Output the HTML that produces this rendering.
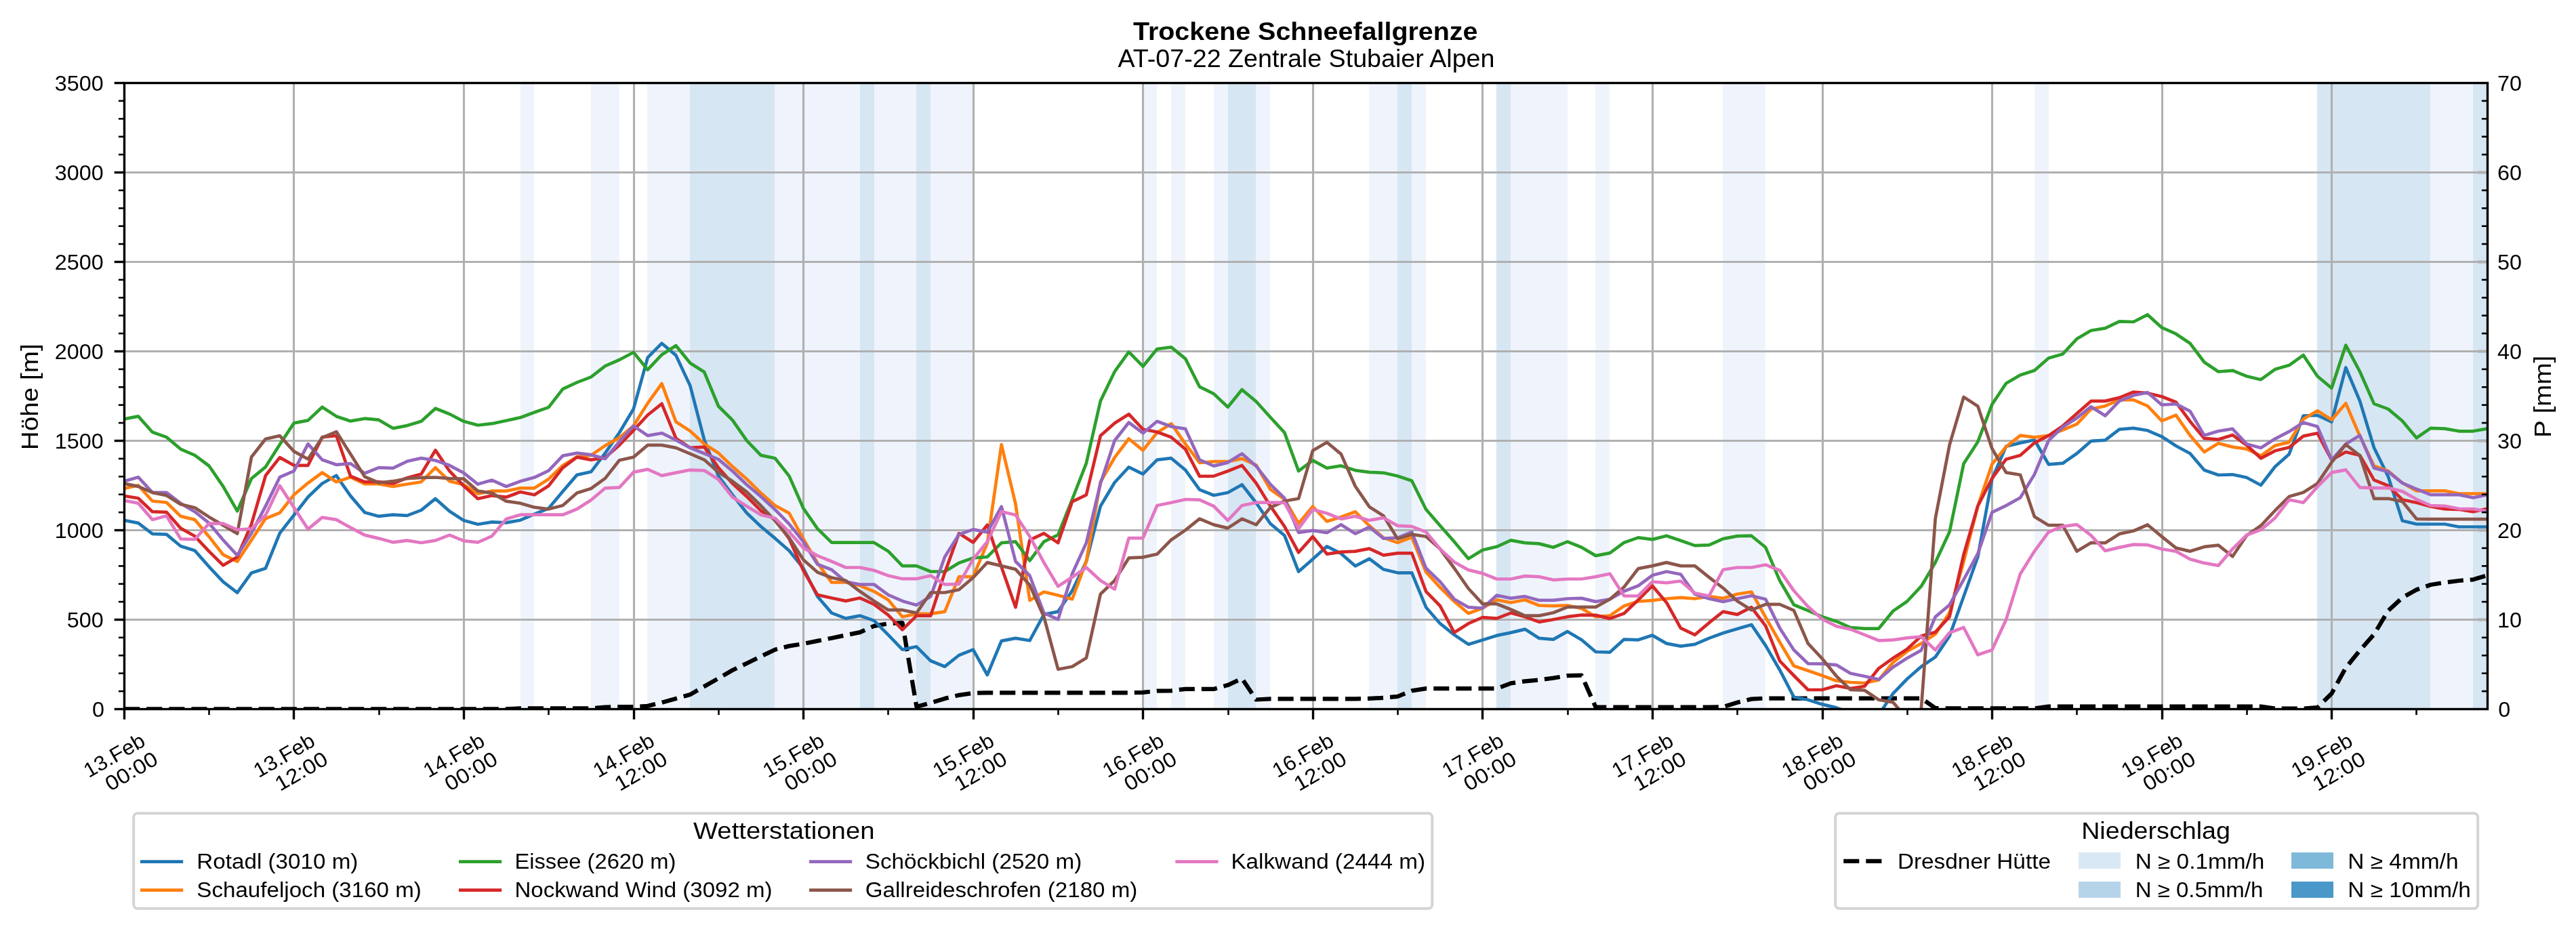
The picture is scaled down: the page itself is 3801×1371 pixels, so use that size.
<!DOCTYPE html>
<html><head><meta charset="utf-8"><title>Trockene Schneefallgrenze</title>
<style>html,body{margin:0;padding:0;background:#fff;}svg{display:block;will-change:transform;}text{font-family:"Liberation Sans",sans-serif;fill:#000;}</style></head><body>
<svg width="3801" height="1371" viewBox="0 0 3801 1371">
<rect x="0" y="0" width="3801" height="1371" fill="#ffffff"/>
<g shape-rendering="crispEdges">
<rect x="768" y="122.5" width="20" height="924.0" fill="#eff4fc"/>
<rect x="872" y="122.5" width="42" height="924.0" fill="#eff4fc"/>
<rect x="955" y="122.5" width="63" height="924.0" fill="#eff4fc"/>
<rect x="1143" y="122.5" width="126" height="924.0" fill="#eff4fc"/>
<rect x="1290" y="122.5" width="62" height="924.0" fill="#eff4fc"/>
<rect x="1373" y="122.5" width="63" height="924.0" fill="#eff4fc"/>
<rect x="1686" y="122.5" width="21" height="924.0" fill="#eff4fc"/>
<rect x="1728" y="122.5" width="21" height="924.0" fill="#eff4fc"/>
<rect x="1791" y="122.5" width="21" height="924.0" fill="#eff4fc"/>
<rect x="1853" y="122.5" width="21" height="924.0" fill="#eff4fc"/>
<rect x="2020" y="122.5" width="42" height="924.0" fill="#eff4fc"/>
<rect x="2083" y="122.5" width="21" height="924.0" fill="#eff4fc"/>
<rect x="2229" y="122.5" width="84" height="924.0" fill="#eff4fc"/>
<rect x="2354" y="122.5" width="21" height="924.0" fill="#eff4fc"/>
<rect x="2542" y="122.5" width="63" height="924.0" fill="#eff4fc"/>
<rect x="3002" y="122.5" width="21" height="924.0" fill="#eff4fc"/>
<rect x="3586" y="122.5" width="63" height="924.0" fill="#eff4fc"/>
<rect x="1018" y="122.5" width="125" height="924.0" fill="#d7e6f3"/>
<rect x="1269" y="122.5" width="21" height="924.0" fill="#d7e6f3"/>
<rect x="1352" y="122.5" width="21" height="924.0" fill="#d7e6f3"/>
<rect x="1812" y="122.5" width="41" height="924.0" fill="#d7e6f3"/>
<rect x="2062" y="122.5" width="21" height="924.0" fill="#d7e6f3"/>
<rect x="2208" y="122.5" width="21" height="924.0" fill="#d7e6f3"/>
<rect x="3419" y="122.5" width="167" height="924.0" fill="#d7e6f3"/>
<rect x="3649" y="122.5" width="21" height="924.0" fill="#d7e6f3"/>
</g>
<g stroke="#b0b0b0" stroke-width="3.1" fill="none">
<line x1="433.5" y1="122.5" x2="433.5" y2="1046.5"/>
<line x1="684.5" y1="122.5" x2="684.5" y2="1046.5"/>
<line x1="935.5" y1="122.5" x2="935.5" y2="1046.5"/>
<line x1="1185.5" y1="122.5" x2="1185.5" y2="1046.5"/>
<line x1="1436.5" y1="122.5" x2="1436.5" y2="1046.5"/>
<line x1="1686.5" y1="122.5" x2="1686.5" y2="1046.5"/>
<line x1="1937.5" y1="122.5" x2="1937.5" y2="1046.5"/>
<line x1="2187.5" y1="122.5" x2="2187.5" y2="1046.5"/>
<line x1="2438.5" y1="122.5" x2="2438.5" y2="1046.5"/>
<line x1="2689.5" y1="122.5" x2="2689.5" y2="1046.5"/>
<line x1="2939.5" y1="122.5" x2="2939.5" y2="1046.5"/>
<line x1="3190.5" y1="122.5" x2="3190.5" y2="1046.5"/>
<line x1="3440.5" y1="122.5" x2="3440.5" y2="1046.5"/>
<line x1="183.5" y1="914.5" x2="3670.5" y2="914.5"/>
<line x1="183.5" y1="782.5" x2="3670.5" y2="782.5"/>
<line x1="183.5" y1="650.5" x2="3670.5" y2="650.5"/>
<line x1="183.5" y1="518.5" x2="3670.5" y2="518.5"/>
<line x1="183.5" y1="386.5" x2="3670.5" y2="386.5"/>
<line x1="183.5" y1="254.5" x2="3670.5" y2="254.5"/>
</g>
<g stroke="#b0b0b0" stroke-width="4.2">
<line x1="3655.9" y1="914.5" x2="3670.5" y2="914.5"/>
<line x1="3655.9" y1="782.5" x2="3670.5" y2="782.5"/>
<line x1="3655.9" y1="650.5" x2="3670.5" y2="650.5"/>
<line x1="3655.9" y1="518.5" x2="3670.5" y2="518.5"/>
<line x1="3655.9" y1="386.5" x2="3670.5" y2="386.5"/>
<line x1="3655.9" y1="254.5" x2="3670.5" y2="254.5"/>
</g>
<clipPath id="c"><rect x="183.5" y="122.5" width="3487.0" height="924.0"/></clipPath>
<g clip-path="url(#c)" fill="none" stroke-linejoin="round" stroke-linecap="butt">
<path d="M183.1 1046.4 L204.0 1046.4 L224.9 1046.4 L245.7 1046.4 L266.6 1046.4 L287.5 1046.4 L308.4 1046.4 L329.3 1046.4 L350.1 1046.4 L371.0 1046.4 L391.9 1046.4 L412.8 1046.4 L433.7 1046.4 L454.5 1046.4 L475.4 1046.4 L496.3 1046.4 L517.2 1046.4 L538.1 1046.4 L558.9 1046.4 L579.8 1046.4 L600.7 1046.4 L621.6 1046.4 L642.5 1046.4 L663.3 1046.4 L684.2 1046.4 L705.1 1046.4 L726.0 1046.4 L746.9 1046.4 L767.7 1045.4 L788.6 1045.4 L809.5 1045.4 L830.4 1045.4 L851.3 1045.4 L872.1 1045.4 L893.0 1043.7 L913.9 1043.0 L934.8 1043.0 L955.7 1041.9 L976.5 1036.7 L997.4 1030.9 L1018.3 1025.1 L1039.2 1013.0 L1060.1 1001.1 L1080.9 989.0 L1101.8 979.0 L1122.7 968.7 L1143.6 958.7 L1164.5 953.4 L1185.3 950.1 L1206.2 945.9 L1227.1 941.7 L1248.0 937.3 L1268.9 933.1 L1289.7 923.8 L1310.6 920.3 L1331.5 919.1 L1352.4 1043.0 L1373.3 1037.2 L1394.1 1030.9 L1415.0 1025.8 L1435.9 1022.8 L1456.8 1022.3 L1477.7 1022.3 L1498.5 1022.3 L1519.4 1022.3 L1540.3 1022.3 L1561.2 1022.3 L1582.1 1022.3 L1602.9 1022.3 L1623.8 1022.3 L1644.7 1022.3 L1665.6 1022.3 L1686.5 1021.8 L1707.3 1019.7 L1728.2 1019.3 L1749.1 1016.9 L1770.0 1016.9 L1790.9 1016.9 L1811.7 1011.1 L1832.6 1001.3 L1853.5 1032.5 L1874.4 1031.4 L1895.3 1031.4 L1916.1 1031.4 L1937.0 1031.4 L1957.9 1031.4 L1978.8 1031.4 L1999.7 1031.4 L2020.5 1030.9 L2041.4 1029.8 L2062.3 1027.9 L2083.2 1019.3 L2104.1 1016.2 L2124.9 1016.2 L2145.8 1016.2 L2166.7 1016.2 L2187.6 1016.2 L2208.5 1016.2 L2229.3 1008.3 L2250.2 1005.3 L2271.1 1003.4 L2292.0 1000.6 L2312.9 997.1 L2333.7 996.7 L2354.6 1043.7 L2375.5 1043.7 L2396.4 1043.7 L2417.3 1043.7 L2438.1 1043.7 L2459.0 1043.7 L2479.9 1043.7 L2500.8 1043.7 L2521.7 1043.7 L2542.5 1043.3 L2563.4 1036.7 L2584.3 1031.6 L2605.2 1030.5 L2626.1 1030.5 L2646.9 1030.5 L2667.8 1030.5 L2688.7 1030.5 L2709.6 1030.5 L2730.5 1030.5 L2751.3 1030.5 L2772.2 1030.5 L2793.1 1030.5 L2814.0 1030.5 L2834.9 1030.5 L2855.7 1045.1 L2876.6 1045.4 L2897.5 1045.4 L2918.4 1045.4 L2939.3 1045.4 L2960.1 1045.4 L2981.0 1045.4 L3001.9 1045.4 L3022.8 1042.6 L3043.7 1042.6 L3064.5 1042.6 L3085.4 1042.6 L3106.3 1042.6 L3127.2 1042.6 L3148.1 1042.6 L3168.9 1042.6 L3189.8 1042.6 L3210.7 1042.6 L3231.6 1042.6 L3252.5 1042.6 L3273.3 1042.6 L3294.2 1042.6 L3315.1 1042.6 L3336.0 1042.6 L3356.9 1045.6 L3377.7 1045.6 L3398.6 1045.6 L3419.5 1044.2 L3440.4 1023.5 L3461.3 985.5 L3482.1 959.9 L3503.0 936.1 L3523.9 901.2 L3544.8 882.0 L3565.7 870.3 L3586.5 863.0 L3607.4 859.6 L3628.3 857.0 L3649.2 855.3 L3670.1 849.0" stroke="#000" stroke-width="6.25" stroke-dasharray="23.1 10"/>
<path d="M183.1 767.9 L204.0 771.9 L224.9 787.9 L245.7 788.6 L266.6 806.0 L287.5 812.6 L308.4 836.3 L329.3 858.7 L350.1 874.7 L371.0 845.4 L391.9 838.7 L412.8 786.9 L433.7 760.2 L454.5 733.5 L475.4 713.5 L496.3 701.8 L517.2 731.9 L538.1 756.2 L558.9 761.9 L579.8 759.6 L600.7 760.9 L621.6 752.9 L642.5 735.9 L663.3 754.6 L684.2 768.0 L705.1 773.7 L726.0 770.4 L746.9 771.4 L767.7 767.7 L788.6 758.7 L809.5 750.3 L830.4 725.3 L851.3 700.9 L872.1 696.3 L893.0 668.6 L913.9 638.5 L934.8 603.5 L955.7 527.7 L976.5 506.7 L997.4 524.4 L1018.3 569.1 L1039.2 649.2 L1060.1 702.6 L1080.9 730.3 L1101.8 757.0 L1122.7 777.0 L1143.6 794.4 L1164.5 812.8 L1185.3 838.5 L1206.2 880.2 L1227.1 904.6 L1248.0 912.6 L1268.9 908.6 L1289.7 915.9 L1310.6 936.9 L1331.5 958.6 L1352.4 954.3 L1373.3 975.3 L1394.1 983.7 L1415.0 967.0 L1435.9 958.6 L1456.8 996.0 L1477.7 945.9 L1498.5 941.9 L1519.4 945.3 L1540.3 906.9 L1561.2 902.6 L1582.1 871.8 L1602.9 828.5 L1623.8 747.0 L1644.7 712.0 L1665.6 689.3 L1686.5 699.6 L1707.3 678.6 L1728.2 676.2 L1749.1 693.6 L1770.0 722.6 L1790.9 731.0 L1811.7 727.0 L1832.6 715.3 L1853.5 742.0 L1874.4 772.7 L1895.3 790.2 L1916.1 843.6 L1937.0 825.3 L1957.9 806.3 L1978.8 816.9 L1999.7 835.3 L2020.5 824.6 L2041.4 840.3 L2062.3 845.3 L2083.2 845.3 L2104.1 896.2 L2124.9 920.2 L2145.8 936.9 L2166.7 950.9 L2187.6 944.6 L2208.5 937.9 L2229.3 933.6 L2250.2 928.6 L2271.1 941.9 L2292.0 943.6 L2312.9 931.9 L2333.7 944.3 L2354.6 962.0 L2375.5 962.6 L2396.4 943.6 L2417.3 944.3 L2438.1 937.6 L2459.0 949.6 L2479.9 953.6 L2500.8 950.9 L2521.7 941.9 L2542.5 934.3 L2563.4 927.9 L2584.3 921.9 L2605.2 952.6 L2626.1 988.7 L2646.9 1028.7 L2667.8 1032.7 L2688.7 1039.4 L2709.6 1044.4 L2730.5 1052.1 L2751.3 1057.1 L2772.2 1054.8 L2793.1 1023.7 L2814.0 1002.0 L2834.9 983.7 L2855.7 969.6 L2876.6 938.6 L2897.5 880.2 L2918.4 821.8 L2939.3 707.0 L2960.1 658.6 L2981.0 653.6 L3001.9 649.3 L3022.8 685.3 L3043.7 683.7 L3064.5 669.3 L3085.4 650.9 L3106.3 649.6 L3127.2 633.6 L3148.1 631.9 L3168.9 635.3 L3189.8 644.3 L3210.7 658.0 L3231.6 669.3 L3252.5 693.7 L3273.3 701.0 L3294.2 700.3 L3315.1 704.7 L3336.0 716.0 L3356.9 688.7 L3377.7 670.3 L3398.6 613.6 L3419.5 612.9 L3440.4 622.6 L3461.3 542.5 L3482.1 591.9 L3503.0 660.7 L3523.9 703.4 L3544.8 768.5 L3565.7 773.5 L3586.5 773.5 L3607.4 773.5 L3628.3 777.5 L3649.2 777.5 L3670.1 777.5" stroke="#1f77b4" stroke-width="4.7"/>
<path d="M183.1 720.9 L204.0 716.2 L224.9 739.5 L245.7 741.5 L266.6 761.9 L287.5 766.9 L308.4 791.9 L329.3 818.7 L350.1 828.7 L371.0 797.0 L391.9 765.2 L412.8 756.9 L433.7 730.2 L454.5 712.8 L475.4 697.5 L496.3 711.2 L517.2 704.2 L538.1 714.2 L558.9 714.2 L579.8 717.9 L600.7 714.5 L621.6 711.2 L642.5 690.1 L663.3 710.2 L684.2 715.3 L705.1 728.6 L726.0 724.6 L746.9 724.6 L767.7 720.3 L788.6 720.3 L809.5 706.9 L830.4 686.9 L851.3 674.2 L872.1 671.9 L893.0 657.6 L913.9 645.9 L934.8 628.5 L955.7 595.1 L976.5 566.1 L997.4 622.5 L1018.3 635.9 L1039.2 655.2 L1060.1 668.6 L1080.9 688.6 L1101.8 706.9 L1122.7 727.6 L1143.6 746.0 L1164.5 757.4 L1185.3 795.1 L1206.2 830.8 L1227.1 859.5 L1248.0 859.5 L1268.9 864.2 L1289.7 872.8 L1310.6 885.2 L1331.5 910.2 L1352.4 905.9 L1373.3 905.9 L1394.1 902.6 L1415.0 851.1 L1435.9 851.1 L1456.8 801.7 L1477.7 656.2 L1498.5 743.7 L1519.4 885.9 L1540.3 873.5 L1561.2 878.5 L1582.1 884.2 L1602.9 828.5 L1623.8 711.3 L1644.7 675.2 L1665.6 647.5 L1686.5 664.6 L1707.3 638.5 L1728.2 625.2 L1749.1 655.2 L1770.0 682.9 L1790.9 681.2 L1811.7 681.2 L1832.6 676.9 L1853.5 686.3 L1874.4 722.0 L1895.3 736.8 L1916.1 772.6 L1937.0 747.5 L1957.9 769.5 L1978.8 762.9 L1999.7 755.2 L2020.5 775.9 L2041.4 793.6 L2062.3 800.9 L2083.2 792.9 L2104.1 844.1 L2124.9 866.8 L2145.8 887.5 L2166.7 905.2 L2187.6 897.5 L2208.5 885.2 L2229.3 889.2 L2250.2 885.2 L2271.1 893.5 L2292.0 894.2 L2312.9 893.5 L2333.7 897.9 L2354.6 910.2 L2375.5 908.6 L2396.4 894.2 L2417.3 887.5 L2438.1 886.2 L2459.0 883.5 L2479.9 881.9 L2500.8 883.5 L2521.7 880.2 L2542.5 882.9 L2563.4 876.8 L2584.3 873.5 L2605.2 910.9 L2626.1 947.6 L2646.9 982.7 L2667.8 989.7 L2688.7 997.0 L2709.6 1004.7 L2730.5 1007.0 L2751.3 1008.0 L2772.2 1003.4 L2793.1 977.7 L2814.0 961.3 L2834.9 949.6 L2855.7 935.9 L2876.6 904.2 L2897.5 828.5 L2918.4 746.7 L2939.3 685.3 L2960.1 659.3 L2981.0 642.6 L3001.9 645.3 L3022.8 642.9 L3043.7 634.6 L3064.5 625.9 L3085.4 603.6 L3106.3 599.2 L3127.2 590.2 L3148.1 590.2 L3168.9 599.2 L3189.8 621.2 L3210.7 612.6 L3231.6 642.6 L3252.5 667.0 L3273.3 654.3 L3294.2 659.6 L3315.1 662.6 L3336.0 672.6 L3356.9 657.6 L3377.7 652.6 L3398.6 618.6 L3419.5 606.2 L3440.4 619.6 L3461.3 595.2 L3482.1 643.6 L3503.0 687.4 L3523.9 695.1 L3544.8 712.8 L3565.7 724.4 L3586.5 724.4 L3607.4 724.4 L3628.3 728.5 L3649.2 728.5 L3670.1 728.5" stroke="#ff7f0e" stroke-width="4.7"/>
<path d="M183.1 618.4 L204.0 614.4 L224.9 637.7 L245.7 645.1 L266.6 662.8 L287.5 671.8 L308.4 687.5 L329.3 717.9 L350.1 754.2 L371.0 706.2 L391.9 689.1 L412.8 656.1 L433.7 624.4 L454.5 620.4 L475.4 600.7 L496.3 614.4 L517.2 621.4 L538.1 617.7 L558.9 619.7 L579.8 632.1 L600.7 628.1 L621.6 621.7 L642.5 602.7 L663.3 611.0 L684.2 621.8 L705.1 627.5 L726.0 625.2 L746.9 620.8 L767.7 616.2 L788.6 608.5 L809.5 601.1 L830.4 574.1 L851.3 564.4 L872.1 556.4 L893.0 540.1 L913.9 531.0 L934.8 520.0 L955.7 545.7 L976.5 523.4 L997.4 510.0 L1018.3 535.7 L1039.2 549.1 L1060.1 599.5 L1080.9 620.2 L1101.8 650.2 L1122.7 671.9 L1143.6 676.2 L1164.5 702.6 L1185.3 750.0 L1206.2 780.1 L1227.1 800.7 L1248.0 800.7 L1268.9 800.7 L1289.7 800.7 L1310.6 813.4 L1331.5 835.1 L1352.4 835.1 L1373.3 843.5 L1394.1 843.5 L1415.0 830.8 L1435.9 823.4 L1456.8 821.8 L1477.7 801.1 L1498.5 799.4 L1519.4 827.4 L1540.3 799.4 L1561.2 789.4 L1582.1 737.0 L1602.9 683.6 L1623.8 591.8 L1644.7 548.4 L1665.6 519.4 L1686.5 540.7 L1707.3 515.0 L1728.2 512.4 L1749.1 529.4 L1770.0 570.8 L1790.9 581.1 L1811.7 600.8 L1832.6 575.1 L1853.5 592.5 L1874.4 615.8 L1895.3 638.4 L1916.1 695.1 L1937.0 679.4 L1957.9 690.8 L1978.8 687.4 L1999.7 694.1 L2020.5 696.8 L2041.4 697.8 L2062.3 702.5 L2083.2 709.5 L2104.1 751.7 L2124.9 775.7 L2145.8 799.4 L2166.7 824.4 L2187.6 811.8 L2208.5 806.8 L2229.3 797.4 L2250.2 801.1 L2271.1 802.4 L2292.0 807.8 L2312.9 799.4 L2333.7 807.8 L2354.6 820.1 L2375.5 816.1 L2396.4 800.7 L2417.3 793.4 L2438.1 796.1 L2459.0 790.7 L2479.9 797.7 L2500.8 805.1 L2521.7 804.4 L2542.5 795.1 L2563.4 791.1 L2584.3 790.7 L2605.2 807.8 L2626.1 856.8 L2646.9 892.5 L2667.8 901.2 L2688.7 910.2 L2709.6 916.9 L2730.5 926.2 L2751.3 927.6 L2772.2 927.6 L2793.1 901.9 L2814.0 887.5 L2834.9 865.2 L2855.7 830.1 L2876.6 785.1 L2897.5 684.3 L2918.4 651.9 L2939.3 596.9 L2960.1 565.8 L2981.0 553.5 L3001.9 546.8 L3022.8 528.5 L3043.7 522.4 L3064.5 500.1 L3085.4 487.7 L3106.3 484.4 L3127.2 474.4 L3148.1 475.0 L3168.9 464.4 L3189.8 483.4 L3210.7 492.7 L3231.6 506.8 L3252.5 534.5 L3273.3 548.5 L3294.2 546.8 L3315.1 555.2 L3336.0 560.2 L3356.9 545.1 L3377.7 539.1 L3398.6 524.1 L3419.5 555.2 L3440.4 572.8 L3461.3 509.4 L3482.1 548.5 L3503.0 595.9 L3523.9 603.6 L3544.8 621.2 L3565.7 646.3 L3586.5 631.9 L3607.4 632.6 L3628.3 636.3 L3649.2 636.3 L3670.1 632.6" stroke="#2ca02c" stroke-width="4.7"/>
<path d="M183.1 731.9 L204.0 735.2 L224.9 755.2 L245.7 755.9 L266.6 779.6 L287.5 791.3 L308.4 813.6 L329.3 834.3 L350.1 822.0 L371.0 773.6 L391.9 701.8 L412.8 675.1 L433.7 686.8 L454.5 686.8 L475.4 645.1 L496.3 642.8 L517.2 702.8 L538.1 711.2 L558.9 711.2 L579.8 713.5 L600.7 705.2 L621.6 699.5 L642.5 664.4 L663.3 695.2 L684.2 717.0 L705.1 736.0 L726.0 731.3 L746.9 733.7 L767.7 726.0 L788.6 730.3 L809.5 717.0 L830.4 690.3 L851.3 674.6 L872.1 678.6 L893.0 675.2 L913.9 656.9 L934.8 635.2 L955.7 612.5 L976.5 595.8 L997.4 646.9 L1018.3 660.9 L1039.2 659.6 L1060.1 690.3 L1080.9 713.6 L1101.8 732.7 L1122.7 753.7 L1143.6 766.7 L1164.5 795.1 L1185.3 841.8 L1206.2 877.9 L1227.1 882.5 L1248.0 886.9 L1268.9 882.5 L1289.7 891.9 L1310.6 907.6 L1331.5 929.3 L1352.4 908.6 L1373.3 908.6 L1394.1 845.1 L1415.0 787.1 L1435.9 800.4 L1456.8 774.7 L1477.7 836.8 L1498.5 896.2 L1519.4 797.1 L1540.3 787.1 L1561.2 801.1 L1582.1 740.3 L1602.9 730.3 L1623.8 642.9 L1644.7 624.5 L1665.6 611.2 L1686.5 633.5 L1707.3 637.5 L1728.2 645.2 L1749.1 662.9 L1770.0 702.9 L1790.9 702.6 L1811.7 695.3 L1832.6 686.9 L1853.5 713.0 L1874.4 746.7 L1895.3 776.9 L1916.1 815.3 L1937.0 791.9 L1957.9 817.6 L1978.8 814.6 L1999.7 813.6 L2020.5 809.6 L2041.4 819.3 L2062.3 816.3 L2083.2 816.3 L2104.1 872.8 L2124.9 894.2 L2145.8 933.6 L2166.7 920.2 L2187.6 911.2 L2208.5 912.6 L2229.3 904.6 L2250.2 910.2 L2271.1 917.9 L2292.0 914.2 L2312.9 910.2 L2333.7 907.6 L2354.6 907.9 L2375.5 912.9 L2396.4 905.2 L2417.3 885.2 L2438.1 864.5 L2459.0 889.2 L2479.9 926.9 L2500.8 936.9 L2521.7 919.2 L2542.5 902.6 L2563.4 906.9 L2584.3 896.2 L2605.2 923.6 L2626.1 975.3 L2646.9 997.0 L2667.8 1018.0 L2688.7 1018.0 L2709.6 1012.0 L2730.5 1016.0 L2751.3 1012.7 L2772.2 986.3 L2793.1 971.3 L2814.0 958.0 L2834.9 938.6 L2855.7 932.9 L2876.6 910.2 L2897.5 818.4 L2918.4 746.7 L2939.3 706.0 L2960.1 677.7 L2981.0 672.0 L3001.9 653.6 L3022.8 642.9 L3043.7 628.6 L3064.5 610.2 L3085.4 591.9 L3106.3 591.9 L3127.2 586.9 L3148.1 578.5 L3168.9 580.2 L3189.8 585.2 L3210.7 593.5 L3231.6 621.9 L3252.5 646.9 L3273.3 648.6 L3294.2 641.9 L3315.1 657.0 L3336.0 676.3 L3356.9 665.3 L3377.7 660.3 L3398.6 643.6 L3419.5 639.3 L3440.4 678.7 L3461.3 667.0 L3482.1 672.0 L3503.0 708.4 L3523.9 716.8 L3544.8 737.5 L3565.7 741.8 L3586.5 747.5 L3607.4 751.1 L3628.3 751.8 L3649.2 755.2 L3670.1 750.8" stroke="#d62728" stroke-width="4.7"/>
<path d="M183.1 710.2 L204.0 704.2 L224.9 726.9 L245.7 726.9 L266.6 742.9 L287.5 755.2 L308.4 771.9 L329.3 797.0 L350.1 819.7 L371.0 786.9 L391.9 746.9 L412.8 704.2 L433.7 695.2 L454.5 655.1 L475.4 678.5 L496.3 685.8 L517.2 684.1 L538.1 698.5 L558.9 690.1 L579.8 690.8 L600.7 680.8 L621.6 676.1 L642.5 679.5 L663.3 686.8 L684.2 697.9 L705.1 714.6 L726.0 708.6 L746.9 718.0 L767.7 710.3 L788.6 704.6 L809.5 694.6 L830.4 672.6 L851.3 668.6 L872.1 671.2 L893.0 676.9 L913.9 651.9 L934.8 628.5 L955.7 642.9 L976.5 639.2 L997.4 649.5 L1018.3 660.9 L1039.2 669.2 L1060.1 677.9 L1080.9 695.3 L1101.8 715.3 L1122.7 732.7 L1143.6 752.0 L1164.5 773.4 L1185.3 799.4 L1206.2 832.8 L1227.1 840.8 L1248.0 858.5 L1268.9 862.5 L1289.7 862.5 L1310.6 877.9 L1331.5 886.9 L1352.4 892.9 L1373.3 880.2 L1394.1 821.8 L1415.0 788.7 L1435.9 781.4 L1456.8 785.4 L1477.7 747.7 L1498.5 828.5 L1519.4 849.5 L1540.3 904.6 L1561.2 914.2 L1582.1 846.8 L1602.9 801.1 L1623.8 713.6 L1644.7 650.2 L1665.6 623.5 L1686.5 639.2 L1707.3 621.8 L1728.2 629.5 L1749.1 632.9 L1770.0 678.6 L1790.9 687.6 L1811.7 682.6 L1832.6 669.6 L1853.5 687.9 L1874.4 714.6 L1895.3 735.2 L1916.1 785.9 L1937.0 782.9 L1957.9 786.2 L1978.8 774.2 L1999.7 787.6 L2020.5 777.9 L2041.4 794.6 L2062.3 793.6 L2083.2 785.2 L2104.1 838.5 L2124.9 858.5 L2145.8 884.2 L2166.7 896.2 L2187.6 897.5 L2208.5 878.5 L2229.3 882.9 L2250.2 880.2 L2271.1 885.9 L2292.0 885.9 L2312.9 883.5 L2333.7 882.9 L2354.6 887.9 L2375.5 884.2 L2396.4 872.5 L2417.3 864.5 L2438.1 849.1 L2459.0 843.5 L2479.9 847.5 L2500.8 876.8 L2521.7 883.5 L2542.5 887.9 L2563.4 883.5 L2584.3 879.2 L2605.2 884.2 L2626.1 926.9 L2646.9 959.3 L2667.8 979.3 L2688.7 979.7 L2709.6 981.3 L2730.5 993.7 L2751.3 998.0 L2772.2 1002.7 L2793.1 984.7 L2814.0 971.3 L2834.9 959.6 L2855.7 910.4 L2876.6 892.7 L2897.5 855.3 L2918.4 816.9 L2939.3 756.2 L2960.1 746.1 L2981.0 734.5 L3001.9 700.1 L3022.8 650.0 L3043.7 630.3 L3064.5 616.9 L3085.4 600.2 L3106.3 613.6 L3127.2 591.9 L3148.1 583.5 L3168.9 579.2 L3189.8 597.5 L3210.7 596.2 L3231.6 606.9 L3252.5 642.6 L3273.3 636.3 L3294.2 632.9 L3315.1 655.3 L3336.0 661.0 L3356.9 647.6 L3377.7 636.9 L3398.6 623.6 L3419.5 629.6 L3440.4 678.7 L3461.3 655.3 L3482.1 642.6 L3503.0 690.7 L3523.9 696.1 L3544.8 712.8 L3565.7 721.8 L3586.5 730.1 L3607.4 730.1 L3628.3 730.1 L3649.2 734.5 L3670.1 730.1" stroke="#9467bd" stroke-width="4.7"/>
<path d="M183.1 713.5 L204.0 717.9 L224.9 726.9 L245.7 731.2 L266.6 744.2 L287.5 749.2 L308.4 762.9 L329.3 775.3 L350.1 787.6 L371.0 674.5 L391.9 647.8 L412.8 643.1 L433.7 666.1 L454.5 677.5 L475.4 645.8 L496.3 637.1 L517.2 670.1 L538.1 703.5 L558.9 712.5 L579.8 710.2 L600.7 706.2 L621.6 704.8 L642.5 704.5 L663.3 706.2 L684.2 706.6 L705.1 724.6 L726.0 727.6 L746.9 739.7 L767.7 742.7 L788.6 748.7 L809.5 751.3 L830.4 746.0 L851.3 727.6 L872.1 721.0 L893.0 705.9 L913.9 679.2 L934.8 674.6 L955.7 656.9 L976.5 656.9 L997.4 660.9 L1018.3 669.6 L1039.2 678.6 L1060.1 696.9 L1080.9 710.3 L1101.8 726.0 L1122.7 746.3 L1143.6 768.4 L1164.5 793.4 L1185.3 826.1 L1206.2 844.5 L1227.1 852.5 L1248.0 856.8 L1268.9 872.8 L1289.7 886.9 L1310.6 900.2 L1331.5 900.2 L1352.4 904.6 L1373.3 874.5 L1394.1 874.5 L1415.0 870.2 L1435.9 852.5 L1456.8 830.1 L1477.7 835.1 L1498.5 840.1 L1519.4 863.5 L1540.3 910.2 L1561.2 987.7 L1582.1 983.7 L1602.9 971.0 L1623.8 876.8 L1644.7 856.8 L1665.6 823.4 L1686.5 822.4 L1707.3 817.8 L1728.2 796.7 L1749.1 782.4 L1770.0 765.7 L1790.9 774.4 L1811.7 779.4 L1832.6 765.7 L1853.5 774.4 L1874.4 749.0 L1895.3 739.5 L1916.1 735.8 L1937.0 665.1 L1957.9 652.7 L1978.8 670.1 L1999.7 717.5 L2020.5 747.9 L2041.4 761.2 L2062.3 795.2 L2083.2 788.6 L2104.1 791.7 L2124.9 810.1 L2145.8 838.5 L2166.7 868.5 L2187.6 891.2 L2208.5 891.2 L2229.3 899.5 L2250.2 908.6 L2271.1 908.6 L2292.0 904.2 L2312.9 895.9 L2333.7 895.9 L2354.6 895.9 L2375.5 884.2 L2396.4 866.2 L2417.3 839.1 L2438.1 835.1 L2459.0 830.1 L2479.9 835.1 L2500.8 835.1 L2521.7 851.8 L2542.5 867.8 L2563.4 886.9 L2584.3 900.2 L2605.2 891.9 L2626.1 891.9 L2646.9 900.9 L2667.8 949.6 L2688.7 972.0 L2709.6 997.7 L2730.5 1018.0 L2751.3 1018.7 L2772.2 1032.7 L2793.1 1036.4 L2814.0 1060.4 L2834.9 1045.4 L2855.7 765.2 L2876.6 656.7 L2897.5 585.9 L2918.4 599.5 L2939.3 662.0 L2960.1 697.4 L2981.0 700.7 L3001.9 762.5 L3022.8 775.2 L3043.7 775.2 L3064.5 813.6 L3085.4 800.9 L3106.3 801.2 L3127.2 787.9 L3148.1 783.5 L3168.9 774.5 L3189.8 791.9 L3210.7 808.6 L3231.6 813.6 L3252.5 806.9 L3273.3 804.6 L3294.2 821.2 L3315.1 790.2 L3336.0 775.8 L3356.9 753.5 L3377.7 732.8 L3398.6 726.8 L3419.5 713.4 L3440.4 682.4 L3461.3 656.0 L3482.1 672.4 L3503.0 735.8 L3523.9 735.8 L3544.8 740.1 L3565.7 765.8 L3586.5 766.2 L3607.4 766.2 L3628.3 766.2 L3649.2 766.2 L3670.1 766.2" stroke="#8c564b" stroke-width="4.7"/>
<path d="M183.1 738.5 L204.0 742.6 L224.9 766.9 L245.7 761.2 L266.6 795.3 L287.5 796.0 L308.4 772.6 L329.3 772.6 L350.1 781.9 L371.0 780.3 L391.9 760.2 L412.8 716.8 L433.7 748.9 L454.5 780.9 L475.4 763.6 L496.3 766.9 L517.2 778.6 L538.1 789.6 L558.9 794.6 L579.8 800.3 L600.7 797.6 L621.6 801.0 L642.5 797.6 L663.3 789.6 L684.2 798.1 L705.1 800.4 L726.0 791.1 L746.9 766.0 L767.7 759.7 L788.6 759.7 L809.5 759.7 L830.4 759.7 L851.3 751.3 L872.1 738.0 L893.0 720.3 L913.9 719.3 L934.8 696.9 L955.7 692.6 L976.5 701.9 L997.4 697.6 L1018.3 693.6 L1039.2 694.3 L1060.1 707.6 L1080.9 733.7 L1101.8 747.0 L1122.7 759.7 L1143.6 764.7 L1164.5 785.1 L1185.3 808.4 L1206.2 820.1 L1227.1 828.5 L1248.0 837.5 L1268.9 837.5 L1289.7 841.8 L1310.6 849.5 L1331.5 854.2 L1352.4 854.2 L1373.3 849.5 L1394.1 862.5 L1415.0 861.8 L1435.9 825.1 L1456.8 799.4 L1477.7 755.0 L1498.5 760.0 L1519.4 791.7 L1540.3 830.1 L1561.2 865.2 L1582.1 851.8 L1602.9 837.5 L1623.8 856.8 L1644.7 869.5 L1665.6 794.1 L1686.5 794.1 L1707.3 746.0 L1728.2 741.7 L1749.1 737.0 L1770.0 737.7 L1790.9 747.0 L1811.7 768.0 L1832.6 746.0 L1853.5 741.7 L1874.4 741.7 L1895.3 741.8 L1916.1 780.2 L1937.0 751.9 L1957.9 757.5 L1978.8 765.9 L1999.7 761.9 L2020.5 767.9 L2041.4 764.2 L2062.3 775.9 L2083.2 776.9 L2104.1 785.1 L2124.9 810.1 L2145.8 829.5 L2166.7 841.1 L2187.6 846.1 L2208.5 854.5 L2229.3 854.5 L2250.2 850.1 L2271.1 851.1 L2292.0 855.8 L2312.9 854.5 L2333.7 854.5 L2354.6 851.1 L2375.5 846.8 L2396.4 879.5 L2417.3 879.5 L2438.1 858.5 L2459.0 860.2 L2479.9 857.5 L2500.8 875.2 L2521.7 879.5 L2542.5 840.8 L2563.4 837.5 L2584.3 837.5 L2605.2 833.5 L2626.1 841.8 L2646.9 871.8 L2667.8 895.2 L2688.7 913.6 L2709.6 924.2 L2730.5 928.6 L2751.3 936.9 L2772.2 945.3 L2793.1 944.4 L2814.0 941.4 L2834.9 939.7 L2855.7 959.3 L2876.6 933.7 L2897.5 926.0 L2918.4 966.3 L2939.3 959.3 L2960.1 914.4 L2981.0 846.9 L3001.9 813.6 L3022.8 785.2 L3043.7 776.8 L3064.5 774.2 L3085.4 790.2 L3106.3 812.9 L3127.2 807.9 L3148.1 803.6 L3168.9 804.2 L3189.8 810.2 L3210.7 813.6 L3231.6 825.2 L3252.5 830.9 L3273.3 834.6 L3294.2 810.2 L3315.1 789.5 L3336.0 781.9 L3356.9 764.5 L3377.7 737.5 L3398.6 741.8 L3419.5 718.4 L3440.4 697.4 L3461.3 693.4 L3482.1 719.4 L3503.0 720.1 L3523.9 720.1 L3544.8 725.1 L3565.7 736.8 L3586.5 746.1 L3607.4 746.8 L3628.3 750.8 L3649.2 751.1 L3670.1 754.5" stroke="#e377c2" stroke-width="4.7"/>
</g>
<rect x="183.5" y="122.5" width="3487.0" height="924.0" fill="none" stroke="#000" stroke-width="3.4" stroke-linejoin="miter"/>
<g stroke="#000" stroke-width="3.4">
<line x1="168.7" y1="1046.5" x2="183.5" y2="1046.5"/>
<line x1="168.7" y1="914.5" x2="183.5" y2="914.5"/>
<line x1="168.7" y1="782.5" x2="183.5" y2="782.5"/>
<line x1="168.7" y1="650.5" x2="183.5" y2="650.5"/>
<line x1="168.7" y1="518.5" x2="183.5" y2="518.5"/>
<line x1="168.7" y1="386.5" x2="183.5" y2="386.5"/>
<line x1="168.7" y1="254.5" x2="183.5" y2="254.5"/>
<line x1="168.7" y1="122.5" x2="183.5" y2="122.5"/>
<line x1="183.5" y1="1046.5" x2="183.5" y2="1061.7"/>
<line x1="433.5" y1="1046.5" x2="433.5" y2="1061.7"/>
<line x1="684.5" y1="1046.5" x2="684.5" y2="1061.7"/>
<line x1="935.5" y1="1046.5" x2="935.5" y2="1061.7"/>
<line x1="1185.5" y1="1046.5" x2="1185.5" y2="1061.7"/>
<line x1="1436.5" y1="1046.5" x2="1436.5" y2="1061.7"/>
<line x1="1686.5" y1="1046.5" x2="1686.5" y2="1061.7"/>
<line x1="1937.5" y1="1046.5" x2="1937.5" y2="1061.7"/>
<line x1="2187.5" y1="1046.5" x2="2187.5" y2="1061.7"/>
<line x1="2438.5" y1="1046.5" x2="2438.5" y2="1061.7"/>
<line x1="2689.5" y1="1046.5" x2="2689.5" y2="1061.7"/>
<line x1="2939.5" y1="1046.5" x2="2939.5" y2="1061.7"/>
<line x1="3190.5" y1="1046.5" x2="3190.5" y2="1061.7"/>
<line x1="3440.5" y1="1046.5" x2="3440.5" y2="1061.7"/>
</g>
<g stroke="#000" stroke-width="2.6">
<line x1="174.9" y1="1020.1" x2="183.5" y2="1020.1"/>
<line x1="3661.9" y1="1020.1" x2="3670.5" y2="1020.1"/>
<line x1="174.9" y1="993.7" x2="183.5" y2="993.7"/>
<line x1="3661.9" y1="993.7" x2="3670.5" y2="993.7"/>
<line x1="174.9" y1="967.3" x2="183.5" y2="967.3"/>
<line x1="3661.9" y1="967.3" x2="3670.5" y2="967.3"/>
<line x1="174.9" y1="940.9" x2="183.5" y2="940.9"/>
<line x1="3661.9" y1="940.9" x2="3670.5" y2="940.9"/>
<line x1="174.9" y1="888.1" x2="183.5" y2="888.1"/>
<line x1="3661.9" y1="888.1" x2="3670.5" y2="888.1"/>
<line x1="174.9" y1="861.7" x2="183.5" y2="861.7"/>
<line x1="3661.9" y1="861.7" x2="3670.5" y2="861.7"/>
<line x1="174.9" y1="835.3" x2="183.5" y2="835.3"/>
<line x1="3661.9" y1="835.3" x2="3670.5" y2="835.3"/>
<line x1="174.9" y1="808.9" x2="183.5" y2="808.9"/>
<line x1="3661.9" y1="808.9" x2="3670.5" y2="808.9"/>
<line x1="174.9" y1="756.1" x2="183.5" y2="756.1"/>
<line x1="3661.9" y1="756.1" x2="3670.5" y2="756.1"/>
<line x1="174.9" y1="729.7" x2="183.5" y2="729.7"/>
<line x1="3661.9" y1="729.7" x2="3670.5" y2="729.7"/>
<line x1="174.9" y1="703.3" x2="183.5" y2="703.3"/>
<line x1="3661.9" y1="703.3" x2="3670.5" y2="703.3"/>
<line x1="174.9" y1="676.9" x2="183.5" y2="676.9"/>
<line x1="3661.9" y1="676.9" x2="3670.5" y2="676.9"/>
<line x1="174.9" y1="624.1" x2="183.5" y2="624.1"/>
<line x1="3661.9" y1="624.1" x2="3670.5" y2="624.1"/>
<line x1="174.9" y1="597.7" x2="183.5" y2="597.7"/>
<line x1="3661.9" y1="597.7" x2="3670.5" y2="597.7"/>
<line x1="174.9" y1="571.3" x2="183.5" y2="571.3"/>
<line x1="3661.9" y1="571.3" x2="3670.5" y2="571.3"/>
<line x1="174.9" y1="544.9" x2="183.5" y2="544.9"/>
<line x1="3661.9" y1="544.9" x2="3670.5" y2="544.9"/>
<line x1="174.9" y1="492.1" x2="183.5" y2="492.1"/>
<line x1="3661.9" y1="492.1" x2="3670.5" y2="492.1"/>
<line x1="174.9" y1="465.7" x2="183.5" y2="465.7"/>
<line x1="3661.9" y1="465.7" x2="3670.5" y2="465.7"/>
<line x1="174.9" y1="439.3" x2="183.5" y2="439.3"/>
<line x1="3661.9" y1="439.3" x2="3670.5" y2="439.3"/>
<line x1="174.9" y1="412.9" x2="183.5" y2="412.9"/>
<line x1="3661.9" y1="412.9" x2="3670.5" y2="412.9"/>
<line x1="174.9" y1="360.1" x2="183.5" y2="360.1"/>
<line x1="3661.9" y1="360.1" x2="3670.5" y2="360.1"/>
<line x1="174.9" y1="333.7" x2="183.5" y2="333.7"/>
<line x1="3661.9" y1="333.7" x2="3670.5" y2="333.7"/>
<line x1="174.9" y1="307.3" x2="183.5" y2="307.3"/>
<line x1="3661.9" y1="307.3" x2="3670.5" y2="307.3"/>
<line x1="174.9" y1="280.9" x2="183.5" y2="280.9"/>
<line x1="3661.9" y1="280.9" x2="3670.5" y2="280.9"/>
<line x1="174.9" y1="228.1" x2="183.5" y2="228.1"/>
<line x1="3661.9" y1="228.1" x2="3670.5" y2="228.1"/>
<line x1="174.9" y1="201.7" x2="183.5" y2="201.7"/>
<line x1="3661.9" y1="201.7" x2="3670.5" y2="201.7"/>
<line x1="174.9" y1="175.3" x2="183.5" y2="175.3"/>
<line x1="3661.9" y1="175.3" x2="3670.5" y2="175.3"/>
<line x1="174.9" y1="148.9" x2="183.5" y2="148.9"/>
<line x1="3661.9" y1="148.9" x2="3670.5" y2="148.9"/>
<line x1="308.5" y1="1046.5" x2="308.5" y2="1055.1"/>
<line x1="559.5" y1="1046.5" x2="559.5" y2="1055.1"/>
<line x1="809.5" y1="1046.5" x2="809.5" y2="1055.1"/>
<line x1="1060.5" y1="1046.5" x2="1060.5" y2="1055.1"/>
<line x1="1310.5" y1="1046.5" x2="1310.5" y2="1055.1"/>
<line x1="1561.5" y1="1046.5" x2="1561.5" y2="1055.1"/>
<line x1="1812.5" y1="1046.5" x2="1812.5" y2="1055.1"/>
<line x1="2062.5" y1="1046.5" x2="2062.5" y2="1055.1"/>
<line x1="2313.5" y1="1046.5" x2="2313.5" y2="1055.1"/>
<line x1="2563.5" y1="1046.5" x2="2563.5" y2="1055.1"/>
<line x1="2814.5" y1="1046.5" x2="2814.5" y2="1055.1"/>
<line x1="3064.5" y1="1046.5" x2="3064.5" y2="1055.1"/>
<line x1="3315.5" y1="1046.5" x2="3315.5" y2="1055.1"/>
<line x1="3565.5" y1="1046.5" x2="3565.5" y2="1055.1"/>
</g>
<text x="135.9" y="1057.8" font-size="30.6" text-anchor="start" textLength="18.0" lengthAdjust="spacingAndGlyphs">0</text>
<text x="98.8" y="925.8" font-size="30.6" text-anchor="start" textLength="54.0" lengthAdjust="spacingAndGlyphs">500</text>
<text x="80.8" y="793.8" font-size="30.6" text-anchor="start" textLength="72.0" lengthAdjust="spacingAndGlyphs">1000</text>
<text x="80.8" y="661.8" font-size="30.6" text-anchor="start" textLength="72.0" lengthAdjust="spacingAndGlyphs">1500</text>
<text x="80.8" y="529.8" font-size="30.6" text-anchor="start" textLength="72.0" lengthAdjust="spacingAndGlyphs">2000</text>
<text x="80.8" y="397.8" font-size="30.6" text-anchor="start" textLength="72.0" lengthAdjust="spacingAndGlyphs">2500</text>
<text x="80.8" y="265.8" font-size="30.6" text-anchor="start" textLength="72.0" lengthAdjust="spacingAndGlyphs">3000</text>
<text x="80.8" y="133.8" font-size="30.6" text-anchor="start" textLength="72.0" lengthAdjust="spacingAndGlyphs">3500</text>
<text x="3686.2" y="1057.8" font-size="30.6" text-anchor="start" textLength="18.0" lengthAdjust="spacingAndGlyphs">0</text>
<text x="3684.9" y="925.8" font-size="30.6" text-anchor="start" textLength="36.0" lengthAdjust="spacingAndGlyphs">10</text>
<text x="3684.9" y="793.8" font-size="30.6" text-anchor="start" textLength="36.0" lengthAdjust="spacingAndGlyphs">20</text>
<text x="3684.9" y="661.8" font-size="30.6" text-anchor="start" textLength="36.0" lengthAdjust="spacingAndGlyphs">30</text>
<text x="3684.9" y="529.8" font-size="30.6" text-anchor="start" textLength="36.0" lengthAdjust="spacingAndGlyphs">40</text>
<text x="3684.9" y="397.8" font-size="30.6" text-anchor="start" textLength="36.0" lengthAdjust="spacingAndGlyphs">50</text>
<text x="3684.9" y="265.8" font-size="30.6" text-anchor="start" textLength="36.0" lengthAdjust="spacingAndGlyphs">60</text>
<text x="3684.9" y="133.8" font-size="30.6" text-anchor="start" textLength="36.0" lengthAdjust="spacingAndGlyphs">70</text>
<g transform="translate(216.4 1099.2) rotate(-30)">
<text x="0.0" y="0.0" font-size="30.6" text-anchor="end" textLength="98.5" lengthAdjust="spacingAndGlyphs">13.Feb</text>
<text x="3.0" y="33.0" font-size="30.6" text-anchor="end" textLength="84.0" lengthAdjust="spacingAndGlyphs">00:00</text>
</g>
<g transform="translate(467.0 1099.2) rotate(-30)">
<text x="0.0" y="0.0" font-size="30.6" text-anchor="end" textLength="98.5" lengthAdjust="spacingAndGlyphs">13.Feb</text>
<text x="3.0" y="33.0" font-size="30.6" text-anchor="end" textLength="84.0" lengthAdjust="spacingAndGlyphs">12:00</text>
</g>
<g transform="translate(717.5 1099.2) rotate(-30)">
<text x="0.0" y="0.0" font-size="30.6" text-anchor="end" textLength="98.5" lengthAdjust="spacingAndGlyphs">14.Feb</text>
<text x="3.0" y="33.0" font-size="30.6" text-anchor="end" textLength="84.0" lengthAdjust="spacingAndGlyphs">00:00</text>
</g>
<g transform="translate(968.1 1099.2) rotate(-30)">
<text x="0.0" y="0.0" font-size="30.6" text-anchor="end" textLength="98.5" lengthAdjust="spacingAndGlyphs">14.Feb</text>
<text x="3.0" y="33.0" font-size="30.6" text-anchor="end" textLength="84.0" lengthAdjust="spacingAndGlyphs">12:00</text>
</g>
<g transform="translate(1218.6 1099.2) rotate(-30)">
<text x="0.0" y="0.0" font-size="30.6" text-anchor="end" textLength="98.5" lengthAdjust="spacingAndGlyphs">15.Feb</text>
<text x="3.0" y="33.0" font-size="30.6" text-anchor="end" textLength="84.0" lengthAdjust="spacingAndGlyphs">00:00</text>
</g>
<g transform="translate(1469.2 1099.2) rotate(-30)">
<text x="0.0" y="0.0" font-size="30.6" text-anchor="end" textLength="98.5" lengthAdjust="spacingAndGlyphs">15.Feb</text>
<text x="3.0" y="33.0" font-size="30.6" text-anchor="end" textLength="84.0" lengthAdjust="spacingAndGlyphs">12:00</text>
</g>
<g transform="translate(1719.8 1099.2) rotate(-30)">
<text x="0.0" y="0.0" font-size="30.6" text-anchor="end" textLength="98.5" lengthAdjust="spacingAndGlyphs">16.Feb</text>
<text x="3.0" y="33.0" font-size="30.6" text-anchor="end" textLength="84.0" lengthAdjust="spacingAndGlyphs">00:00</text>
</g>
<g transform="translate(1970.3 1099.2) rotate(-30)">
<text x="0.0" y="0.0" font-size="30.6" text-anchor="end" textLength="98.5" lengthAdjust="spacingAndGlyphs">16.Feb</text>
<text x="3.0" y="33.0" font-size="30.6" text-anchor="end" textLength="84.0" lengthAdjust="spacingAndGlyphs">12:00</text>
</g>
<g transform="translate(2220.9 1099.2) rotate(-30)">
<text x="0.0" y="0.0" font-size="30.6" text-anchor="end" textLength="98.5" lengthAdjust="spacingAndGlyphs">17.Feb</text>
<text x="3.0" y="33.0" font-size="30.6" text-anchor="end" textLength="84.0" lengthAdjust="spacingAndGlyphs">00:00</text>
</g>
<g transform="translate(2471.4 1099.2) rotate(-30)">
<text x="0.0" y="0.0" font-size="30.6" text-anchor="end" textLength="98.5" lengthAdjust="spacingAndGlyphs">17.Feb</text>
<text x="3.0" y="33.0" font-size="30.6" text-anchor="end" textLength="84.0" lengthAdjust="spacingAndGlyphs">12:00</text>
</g>
<g transform="translate(2722.0 1099.2) rotate(-30)">
<text x="0.0" y="0.0" font-size="30.6" text-anchor="end" textLength="98.5" lengthAdjust="spacingAndGlyphs">18.Feb</text>
<text x="3.0" y="33.0" font-size="30.6" text-anchor="end" textLength="84.0" lengthAdjust="spacingAndGlyphs">00:00</text>
</g>
<g transform="translate(2972.6 1099.2) rotate(-30)">
<text x="0.0" y="0.0" font-size="30.6" text-anchor="end" textLength="98.5" lengthAdjust="spacingAndGlyphs">18.Feb</text>
<text x="3.0" y="33.0" font-size="30.6" text-anchor="end" textLength="84.0" lengthAdjust="spacingAndGlyphs">12:00</text>
</g>
<g transform="translate(3223.1 1099.2) rotate(-30)">
<text x="0.0" y="0.0" font-size="30.6" text-anchor="end" textLength="98.5" lengthAdjust="spacingAndGlyphs">19.Feb</text>
<text x="3.0" y="33.0" font-size="30.6" text-anchor="end" textLength="84.0" lengthAdjust="spacingAndGlyphs">00:00</text>
</g>
<g transform="translate(3473.7 1099.2) rotate(-30)">
<text x="0.0" y="0.0" font-size="30.6" text-anchor="end" textLength="98.5" lengthAdjust="spacingAndGlyphs">19.Feb</text>
<text x="3.0" y="33.0" font-size="30.6" text-anchor="end" textLength="84.0" lengthAdjust="spacingAndGlyphs">12:00</text>
</g>
<g transform="translate(56.2 585.7) rotate(-90)">
<text x="0.0" y="0.0" font-size="35.3" text-anchor="middle" textLength="157.0" lengthAdjust="spacingAndGlyphs">Höhe [m]</text>
</g>
<g transform="translate(3764.0 585.4) rotate(-90)">
<text x="0.0" y="0.0" font-size="35.3" text-anchor="middle" textLength="121.4" lengthAdjust="spacingAndGlyphs">P [mm]</text>
</g>
<text x="1672.0" y="58.6" font-size="37" text-anchor="start" font-weight="bold" textLength="508.5" lengthAdjust="spacingAndGlyphs">Trockene Schneefallgrenze</text>
<text x="1649.5" y="98.8" font-size="37" text-anchor="start" textLength="556.0" lengthAdjust="spacingAndGlyphs">AT-07-22 Zentrale Stubaier Alpen</text>
<rect x="197.2" y="1200.2" width="1916.1" height="140.6" rx="6" ry="6" fill="#ffffff" stroke="#d4d4d4" stroke-width="4.0"/>
<text x="1022.9" y="1238.2" font-size="35.3" text-anchor="start" textLength="267.6" lengthAdjust="spacingAndGlyphs">Wetterstationen</text>
<line x1="207.0" y1="1271.6" x2="270.2" y2="1271.6" stroke="#1f77b4" stroke-width="4.7"/>
<text x="290.3" y="1282.0" font-size="30.6" text-anchor="start" textLength="238.1" lengthAdjust="spacingAndGlyphs">Rotadl (3010 m)</text>
<line x1="207.0" y1="1313.6" x2="270.2" y2="1313.6" stroke="#ff7f0e" stroke-width="4.7"/>
<text x="290.3" y="1324.2" font-size="30.6" text-anchor="start" textLength="331.6" lengthAdjust="spacingAndGlyphs">Schaufeljoch (3160 m)</text>
<line x1="677.0" y1="1271.6" x2="740.2" y2="1271.6" stroke="#2ca02c" stroke-width="4.7"/>
<text x="759.4" y="1282.0" font-size="30.6" text-anchor="start" textLength="238.0" lengthAdjust="spacingAndGlyphs">Eissee (2620 m)</text>
<line x1="677.0" y1="1313.6" x2="740.2" y2="1313.6" stroke="#d62728" stroke-width="4.7"/>
<text x="759.5" y="1324.2" font-size="30.6" text-anchor="start" textLength="380.0" lengthAdjust="spacingAndGlyphs">Nockwand Wind (3092 m)</text>
<line x1="1194.0" y1="1271.6" x2="1257.2" y2="1271.6" stroke="#9467bd" stroke-width="4.7"/>
<text x="1276.8" y="1282.0" font-size="30.6" text-anchor="start" textLength="319.5" lengthAdjust="spacingAndGlyphs">Schöckbichl (2520 m)</text>
<line x1="1194.0" y1="1313.6" x2="1257.2" y2="1313.6" stroke="#8c564b" stroke-width="4.7"/>
<text x="1276.8" y="1324.2" font-size="30.6" text-anchor="start" textLength="401.6" lengthAdjust="spacingAndGlyphs">Gallreideschrofen (2180 m)</text>
<line x1="1734.3" y1="1271.6" x2="1797.5" y2="1271.6" stroke="#e377c2" stroke-width="4.7"/>
<text x="1816.4" y="1282.0" font-size="30.6" text-anchor="start" textLength="286.6" lengthAdjust="spacingAndGlyphs">Kalkwand (2444 m)</text>
<rect x="2708.2" y="1200.2" width="948.0" height="140.6" rx="6" ry="6" fill="#ffffff" stroke="#d4d4d4" stroke-width="4.0"/>
<text x="3071.2" y="1237.6" font-size="35.3" text-anchor="start" textLength="219.7" lengthAdjust="spacingAndGlyphs">Niederschlag</text>
<line x1="2720.2" y1="1270.8" x2="2776.6" y2="1270.8" stroke="#000" stroke-width="6.25" stroke-dasharray="23.1 10"/>
<text x="2799.9" y="1282.0" font-size="30.6" text-anchor="start" textLength="226.1" lengthAdjust="spacingAndGlyphs">Dresdner Hütte</text>
<rect x="3067.0" y="1258.2" width="62.2" height="24.2" fill="#d9e8f5" shape-rendering="crispEdges"/>
<text x="3150.7" y="1282.0" font-size="30.6" text-anchor="start" textLength="190.7" lengthAdjust="spacingAndGlyphs">N ≥ 0.1mm/h</text>
<rect x="3067.0" y="1301.0" width="62.2" height="24.2" fill="#b6d4e9" shape-rendering="crispEdges"/>
<text x="3150.7" y="1324.2" font-size="30.6" text-anchor="start" textLength="188.7" lengthAdjust="spacingAndGlyphs">N ≥ 0.5mm/h</text>
<rect x="3381.0" y="1258.2" width="62.2" height="24.2" fill="#7fb9da" shape-rendering="crispEdges"/>
<text x="3464.3" y="1282.0" font-size="30.6" text-anchor="start" textLength="163.2" lengthAdjust="spacingAndGlyphs">N ≥ 4mm/h</text>
<rect x="3381.0" y="1301.0" width="62.2" height="24.2" fill="#4a98c9" shape-rendering="crispEdges"/>
<text x="3464.3" y="1324.2" font-size="30.6" text-anchor="start" textLength="181.6" lengthAdjust="spacingAndGlyphs">N ≥ 10mm/h</text>
</svg></body></html>
